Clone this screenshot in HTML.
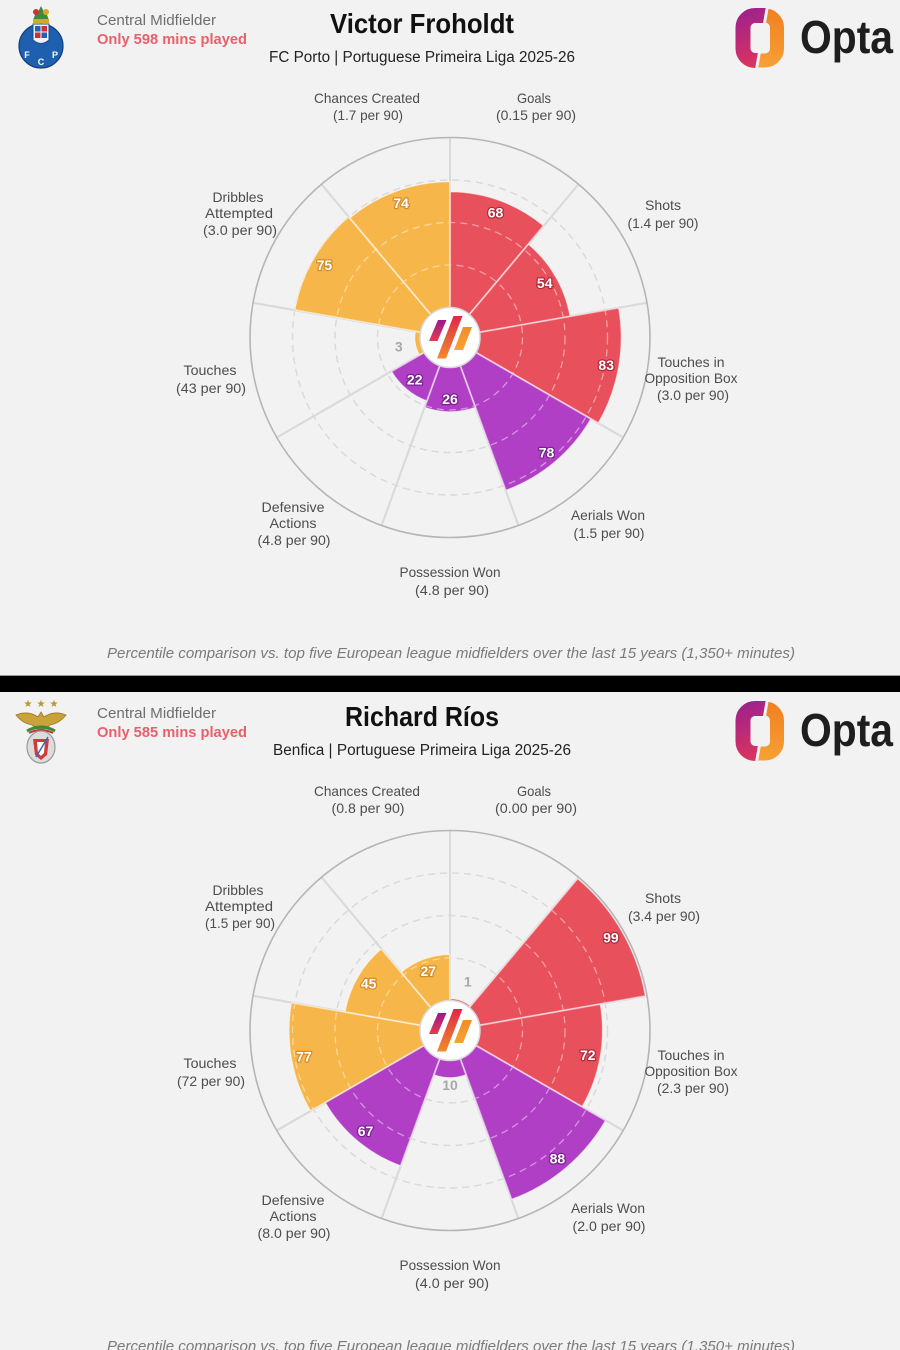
<!DOCTYPE html>
<html>
<head>
<meta charset="utf-8">
<style>
html,body{margin:0;padding:0;background:#f2f2f2;}
svg{display:block;}
</style>
</head>
<body>
<svg xmlns="http://www.w3.org/2000/svg" width="900" height="1350" viewBox="0 0 900 1350" font-family="'Liberation Sans', sans-serif">
<defs>
  <linearGradient id="gb1" x1="0" y1="0" x2="0" y2="1"><stop offset="0" stop-color="#9c198f"/><stop offset="1" stop-color="#e43a4e"/></linearGradient>
  <linearGradient id="gb2" x1="0" y1="0" x2="0" y2="1"><stop offset="0" stop-color="#df2749"/><stop offset="1" stop-color="#f28a2c"/></linearGradient>
  <linearGradient id="gb3" x1="0" y1="0" x2="0" y2="1"><stop offset="0" stop-color="#f28d2a"/><stop offset="1" stop-color="#f5a332"/></linearGradient>
  <linearGradient id="optaL" gradientUnits="userSpaceOnUse" x1="735" y1="10" x2="762" y2="68"><stop offset="0" stop-color="#9a1f90"/><stop offset="1" stop-color="#e2365a"/></linearGradient>
  <linearGradient id="optaR" gradientUnits="userSpaceOnUse" x1="775" y1="8" x2="760" y2="68"><stop offset="0" stop-color="#f07f22"/><stop offset="1" stop-color="#f7a236"/></linearGradient>
  <clipPath id="cL"><polygon points="720,0 767,0 754,75 720,75"/></clipPath>
  <clipPath id="cR"><polygon points="770,0 800,0 800,75 757,75"/></clipPath>

  <g id="grid" fill="none">
    <line x1="0" y1="-30" x2="0" y2="-200" stroke-width="2"/>
    <line x1="0" y1="-30" x2="0" y2="-200" stroke-width="2" transform="rotate(40)"/>
    <line x1="0" y1="-30" x2="0" y2="-200" stroke-width="2" transform="rotate(80)"/>
    <line x1="0" y1="-30" x2="0" y2="-200" stroke-width="2" transform="rotate(120)"/>
    <line x1="0" y1="-30" x2="0" y2="-200" stroke-width="2" transform="rotate(160)"/>
    <line x1="0" y1="-30" x2="0" y2="-200" stroke-width="2" transform="rotate(200)"/>
    <line x1="0" y1="-30" x2="0" y2="-200" stroke-width="2" transform="rotate(240)"/>
    <line x1="0" y1="-30" x2="0" y2="-200" stroke-width="2" transform="rotate(280)"/>
    <line x1="0" y1="-30" x2="0" y2="-200" stroke-width="2" transform="rotate(320)"/>
    <circle r="72.5" stroke-width="1.3" stroke-dasharray="7 5"/>
    <circle r="115" stroke-width="1.3" stroke-dasharray="7 5"/>
    <circle r="157.5" stroke-width="1.3" stroke-dasharray="7 5"/>
  </g>

  <g id="logo">
    <circle r="30" fill="#ffffff" stroke="#d9d9d9" stroke-width="1.5"/>
    <polygon points="-12,-17.5 -3.5,-17.5 -12.5,3.5 -21,3.5" fill="url(#gb1)"/>
    <polygon points="3.5,-21.5 12.5,-21.5 -4,21 -13,21" fill="url(#gb2)"/>
    <polygon points="13,-10.5 22,-10.5 13,12.5 4,12.5" fill="url(#gb3)"/>
  </g>

  <g id="opta">
    <rect x="743" y="15.5" width="34" height="45" rx="12" fill="none" stroke="url(#optaL)" stroke-width="15" clip-path="url(#cL)"/>
    <rect x="743" y="15.5" width="34" height="45" rx="12" fill="none" stroke="url(#optaR)" stroke-width="14" clip-path="url(#cR)"/>
    <text x="800" y="53" font-size="46" font-weight="bold" fill="#1e1e1e" textLength="93" lengthAdjust="spacingAndGlyphs">Opta</text>
  </g>
</defs>

<rect x="0" y="0" width="900" height="1350" fill="#f2f2f2"/>

<!-- ================= TOP PANEL ================= -->
<g>
  <g>
    <circle cx="41" cy="46" r="22" fill="#1e5fae" stroke="#123f7f" stroke-width="1.2"/>
    <path d="M33,24 L49,24 L49,40 Q41,47 33,40 Z" fill="#eef2f8" stroke="#1b4c93" stroke-width="1"/>
    <rect x="35" y="26" width="5.5" height="5.5" fill="#2a5fae"/>
    <rect x="41.5" y="26" width="5.5" height="5.5" fill="#c8323a"/>
    <rect x="35" y="32.5" width="5.5" height="5.5" fill="#c8323a"/>
    <rect x="41.5" y="32.5" width="5.5" height="5.5" fill="#2a5fae"/>
    <path d="M33,22 Q34,14 38,12 L41,6 L44,12 Q48,14 49,22 Z" fill="#3c8a3e"/>
    <circle cx="36" cy="12" r="3" fill="#c8323a"/>
    <circle cx="46" cy="12" r="3" fill="#d9a52a"/>
    <rect x="33" y="19" width="16" height="4" fill="#d9a52a"/>
    <text x="27" y="58" font-size="9" font-weight="bold" fill="#ffffff" text-anchor="middle">F</text>
    <text x="41" y="65" font-size="9" font-weight="bold" fill="#ffffff" text-anchor="middle">C</text>
    <text x="55" y="58" font-size="9" font-weight="bold" fill="#ffffff" text-anchor="middle">P</text>
  </g>

  <text x="97" y="25" font-size="15" fill="#6e6e6e" textLength="119" lengthAdjust="spacingAndGlyphs">Central Midfielder</text>
  <text x="97" y="44" font-size="15" font-weight="bold" fill="#e8606b" textLength="150" lengthAdjust="spacingAndGlyphs">Only 598 mins played</text>
  <text x="422" y="33" font-size="28" font-weight="bold" fill="#111111" text-anchor="middle" textLength="184" lengthAdjust="spacingAndGlyphs">Victor Froholdt</text>
  <text x="422" y="62" font-size="15.5" fill="#222222" text-anchor="middle" textLength="306" lengthAdjust="spacingAndGlyphs">FC Porto | Portuguese Primeira Liga 2025-26</text>
  <use href="#opta"/>

  <g transform="translate(450,337.5)">
    <use href="#grid" stroke="#bcbcbc"/>
    <g stroke="#ffffff" stroke-opacity="0.5" stroke-width="1">
      <path fill="#e8505c" transform="rotate(20)" d="M0,0L-49.80,-136.82A145.6,145.6 0 0 1 49.80,-136.82Z"/>
      <path fill="#e8505c" transform="rotate(60)" d="M0,0L-41.66,-114.45A121.8,121.8 0 0 1 41.66,-114.45Z"/>
      <path fill="#e8505c" transform="rotate(100)" d="M0,0L-58.52,-160.78A171.1,171.1 0 0 1 58.52,-160.78Z"/>
      <path fill="#b13fc6" transform="rotate(140)" d="M0,0L-55.61,-152.79A162.6,162.6 0 0 1 55.61,-152.79Z"/>
      <path fill="#b13fc6" transform="rotate(180)" d="M0,0L-25.38,-69.73A74.2,74.2 0 0 1 25.38,-69.73Z"/>
      <path fill="#b13fc6" transform="rotate(220)" d="M0,0L-23.05,-63.34A67.4,67.4 0 0 1 23.05,-63.34Z"/>
      <path fill="#f6b64a" transform="rotate(260)" d="M0,0L-12.00,-32.98A35.1,35.1 0 0 1 12.00,-32.98Z"/>
      <path fill="#f6b64a" transform="rotate(300)" d="M0,0L-53.87,-148.00A157.5,157.5 0 0 1 53.87,-148.00Z"/>
      <path fill="#f6b64a" transform="rotate(340)" d="M0,0L-53.29,-146.40A155.8,155.8 0 0 1 53.29,-146.40Z"/>
    </g>
    <use href="#grid" stroke="#ffffff" opacity="0.45"/>
    <circle r="200" fill="none" stroke="#b5b5b5" stroke-width="1.6"/>
    <use href="#logo"/>
    <g font-size="14" font-weight="bold" text-anchor="middle" fill="#ffffff" stroke-width="2.5" paint-order="stroke" stroke-linejoin="round">
      <text x="45.5" y="-125.1" dy="5" stroke="#b02a3a">68</text>
      <text x="94.7" y="-54.6" dy="5" stroke="#b02a3a">54</text>
      <text x="156.2" y="27.5" dy="5" stroke="#b02a3a">83</text>
      <text x="96.5" y="115.0" dy="5" stroke="#7a2190">78</text>
      <text x="0" y="61.7" dy="5" stroke="#7a2190">26</text>
      <text x="-35.3" y="42.1" dy="5" stroke="#7a2190">22</text>
      <text x="-125.6" y="-72.5" dy="5" stroke="#d38d2a">75</text>
      <text x="-49.0" y="-134.7" dy="5" stroke="#d38d2a">74</text>
    </g>
    <text x="-51.2" y="9.0" dy="5" font-size="14" font-weight="bold" text-anchor="middle" fill="#a8a8a8">3</text>
  </g>

  <g font-size="14" fill="#4d4d4d" text-anchor="middle">
    <text x="367" y="103" textLength="106" lengthAdjust="spacingAndGlyphs">Chances Created</text>
    <text x="368" y="120" textLength="70" lengthAdjust="spacingAndGlyphs">(1.7 per 90)</text>
    <text x="534" y="103" textLength="34" lengthAdjust="spacingAndGlyphs">Goals</text>
    <text x="536" y="120" textLength="80" lengthAdjust="spacingAndGlyphs">(0.15 per 90)</text>
    <text x="663" y="210" textLength="36" lengthAdjust="spacingAndGlyphs">Shots</text>
    <text x="663" y="228" textLength="71" lengthAdjust="spacingAndGlyphs">(1.4 per 90)</text>
    <text x="691" y="367" textLength="67" lengthAdjust="spacingAndGlyphs">Touches in</text>
    <text x="691" y="383" textLength="93" lengthAdjust="spacingAndGlyphs">Opposition Box</text>
    <text x="693" y="400" textLength="72" lengthAdjust="spacingAndGlyphs">(3.0 per 90)</text>
    <text x="608" y="520" textLength="74" lengthAdjust="spacingAndGlyphs">Aerials Won</text>
    <text x="609" y="538" textLength="71" lengthAdjust="spacingAndGlyphs">(1.5 per 90)</text>
    <text x="450" y="577" textLength="101" lengthAdjust="spacingAndGlyphs">Possession Won</text>
    <text x="452" y="595" textLength="74" lengthAdjust="spacingAndGlyphs">(4.8 per 90)</text>
    <text x="293" y="512" textLength="63" lengthAdjust="spacingAndGlyphs">Defensive</text>
    <text x="293" y="528" textLength="47" lengthAdjust="spacingAndGlyphs">Actions</text>
    <text x="294" y="545" textLength="73" lengthAdjust="spacingAndGlyphs">(4.8 per 90)</text>
    <text x="210" y="375" textLength="53" lengthAdjust="spacingAndGlyphs">Touches</text>
    <text x="211" y="393" textLength="70" lengthAdjust="spacingAndGlyphs">(43 per 90)</text>
    <text x="238" y="202" textLength="51" lengthAdjust="spacingAndGlyphs">Dribbles</text>
    <text x="239" y="218" textLength="68" lengthAdjust="spacingAndGlyphs">Attempted</text>
    <text x="240" y="235" textLength="74" lengthAdjust="spacingAndGlyphs">(3.0 per 90)</text>
  </g>

  <text x="451" y="658" font-size="14.5" font-style="italic" fill="#7a7a7a" text-anchor="middle" textLength="688" lengthAdjust="spacingAndGlyphs">Percentile comparison vs. top five European league midfielders over the last 15 years (1,350+ minutes)</text>
</g>

<rect x="0" y="675" width="900" height="1" fill="#9a9a9a"/>
<rect x="0" y="676" width="900" height="16" fill="#000000"/>

<!-- ================= BOTTOM PANEL ================= -->
<g transform="translate(0,693)">
  <g>
    <text x="28" y="14" font-size="10" fill="#b8962e" text-anchor="middle" font-family="'DejaVu Sans', sans-serif">★</text>
    <text x="41" y="14" font-size="10" fill="#b8962e" text-anchor="middle" font-family="'DejaVu Sans', sans-serif">★</text>
    <text x="54" y="14" font-size="10" fill="#b8962e" text-anchor="middle" font-family="'DejaVu Sans', sans-serif">★</text>
    <path d="M16,22 Q28,17 38,24 L41,19 L44,24 Q54,17 66,22 Q60,30 50,32 L44,36 L38,36 L32,32 Q22,30 16,22 Z" fill="#c9a23a" stroke="#9a7a22" stroke-width="0.8"/>
    <path d="M27,38 Q41,30 55,38" fill="none" stroke="#3c8a3e" stroke-width="3"/>
    <path d="M29,40 Q41,34 53,40" fill="none" stroke="#c8323a" stroke-width="2"/>
    <ellipse cx="41" cy="54" rx="14" ry="16" fill="#dcdcdc" stroke="#9a9a9a" stroke-width="1.2"/>
    <path d="M33,46 L49,46 L47,62 L41,67 L35,62 Z" fill="#d23a3a"/>
    <path d="M37,49 L45,49 L44,60 L41,63 L38,60 Z" fill="#ffffff"/>
    <line x1="36" y1="64" x2="48" y2="44" stroke="#2b6cc0" stroke-width="1.5"/>
  </g>

  <text x="97" y="25" font-size="15" fill="#6e6e6e" textLength="119" lengthAdjust="spacingAndGlyphs">Central Midfielder</text>
  <text x="97" y="44" font-size="15" font-weight="bold" fill="#e8606b" textLength="150" lengthAdjust="spacingAndGlyphs">Only 585 mins played</text>
  <text x="422" y="33" font-size="28" font-weight="bold" fill="#111111" text-anchor="middle" textLength="154" lengthAdjust="spacingAndGlyphs">Richard Ríos</text>
  <text x="422" y="62" font-size="15.5" fill="#222222" text-anchor="middle" textLength="298" lengthAdjust="spacingAndGlyphs">Benfica | Portuguese Primeira Liga 2025-26</text>
  <use href="#opta"/>

  <g transform="translate(450,337.5)">
    <use href="#grid" stroke="#bcbcbc"/>
    <g stroke="#ffffff" stroke-opacity="0.5" stroke-width="1">
      <path fill="#e8505c" transform="rotate(20)" d="M0,0L-10.84,-29.79A31.7,31.7 0 0 1 10.84,-29.79Z"/>
      <path fill="#e8505c" transform="rotate(60)" d="M0,0L-67.82,-186.34A198.3,198.3 0 0 1 67.82,-186.34Z"/>
      <path fill="#e8505c" transform="rotate(100)" d="M0,0L-52.12,-143.21A152.4,152.4 0 0 1 52.12,-143.21Z"/>
      <path fill="#b13fc6" transform="rotate(140)" d="M0,0L-61.43,-168.77A179.6,179.6 0 0 1 61.43,-168.77Z"/>
      <path fill="#b13fc6" transform="rotate(180)" d="M0,0L-16.07,-44.17A47,47 0 0 1 16.07,-44.17Z"/>
      <path fill="#b13fc6" transform="rotate(220)" d="M0,0L-49.22,-135.22A143.9,143.9 0 0 1 49.22,-135.22Z"/>
      <path fill="#f6b64a" transform="rotate(260)" d="M0,0L-55.03,-151.20A160.9,160.9 0 0 1 55.03,-151.20Z"/>
      <path fill="#f6b64a" transform="rotate(300)" d="M0,0L-36.42,-100.08A106.5,106.5 0 0 1 36.42,-100.08Z"/>
      <path fill="#f6b64a" transform="rotate(340)" d="M0,0L-25.96,-71.32A75.9,75.9 0 0 1 25.96,-71.32Z"/>
    </g>
    <use href="#grid" stroke="#ffffff" opacity="0.45"/>
    <circle r="200" fill="none" stroke="#b5b5b5" stroke-width="1.6"/>
    <use href="#logo"/>
    <g font-size="14" font-weight="bold" text-anchor="middle" fill="#ffffff" stroke-width="2.5" paint-order="stroke" stroke-linejoin="round">
      <text x="160.9" y="-92.9" dy="5" stroke="#b02a3a">99</text>
      <text x="137.8" y="24.3" dy="5" stroke="#b02a3a">72</text>
      <text x="107.4" y="128.0" dy="5" stroke="#7a2190">88</text>
      <text x="-84.5" y="100.7" dy="5" stroke="#7a2190">67</text>
      <text x="-146.1" y="25.8" dy="5" stroke="#d38d2a">77</text>
      <text x="-81.4" y="-47.0" dy="5" stroke="#d38d2a">45</text>
      <text x="-21.7" y="-59.6" dy="5" stroke="#d38d2a">27</text>
    </g>
    <text x="17.8" y="-48.9" dy="5" font-size="14" font-weight="bold" text-anchor="middle" fill="#a8a8a8">1</text>
    <text x="0" y="54.5" dy="5" font-size="14" font-weight="bold" text-anchor="middle" fill="#a8a8a8">10</text>
  </g>

  <g font-size="14" fill="#4d4d4d" text-anchor="middle">
    <text x="367" y="103" textLength="106" lengthAdjust="spacingAndGlyphs">Chances Created</text>
    <text x="368" y="120" textLength="73" lengthAdjust="spacingAndGlyphs">(0.8 per 90)</text>
    <text x="534" y="103" textLength="34" lengthAdjust="spacingAndGlyphs">Goals</text>
    <text x="536" y="120" textLength="82" lengthAdjust="spacingAndGlyphs">(0.00 per 90)</text>
    <text x="663" y="210" textLength="36" lengthAdjust="spacingAndGlyphs">Shots</text>
    <text x="664" y="228" textLength="72" lengthAdjust="spacingAndGlyphs">(3.4 per 90)</text>
    <text x="691" y="367" textLength="67" lengthAdjust="spacingAndGlyphs">Touches in</text>
    <text x="691" y="383" textLength="93" lengthAdjust="spacingAndGlyphs">Opposition Box</text>
    <text x="693" y="400" textLength="72" lengthAdjust="spacingAndGlyphs">(2.3 per 90)</text>
    <text x="608" y="520" textLength="74" lengthAdjust="spacingAndGlyphs">Aerials Won</text>
    <text x="609" y="538" textLength="73" lengthAdjust="spacingAndGlyphs">(2.0 per 90)</text>
    <text x="450" y="577" textLength="101" lengthAdjust="spacingAndGlyphs">Possession Won</text>
    <text x="452" y="595" textLength="74" lengthAdjust="spacingAndGlyphs">(4.0 per 90)</text>
    <text x="293" y="512" textLength="63" lengthAdjust="spacingAndGlyphs">Defensive</text>
    <text x="293" y="528" textLength="47" lengthAdjust="spacingAndGlyphs">Actions</text>
    <text x="294" y="545" textLength="73" lengthAdjust="spacingAndGlyphs">(8.0 per 90)</text>
    <text x="210" y="375" textLength="53" lengthAdjust="spacingAndGlyphs">Touches</text>
    <text x="211" y="393" textLength="68" lengthAdjust="spacingAndGlyphs">(72 per 90)</text>
    <text x="238" y="202" textLength="51" lengthAdjust="spacingAndGlyphs">Dribbles</text>
    <text x="239" y="218" textLength="68" lengthAdjust="spacingAndGlyphs">Attempted</text>
    <text x="240" y="235" textLength="70" lengthAdjust="spacingAndGlyphs">(1.5 per 90)</text>
  </g>

  <text x="451" y="658" font-size="14.5" font-style="italic" fill="#7a7a7a" text-anchor="middle" textLength="688" lengthAdjust="spacingAndGlyphs">Percentile comparison vs. top five European league midfielders over the last 15 years (1,350+ minutes)</text>
</g>
</svg>
</body>
</html>
